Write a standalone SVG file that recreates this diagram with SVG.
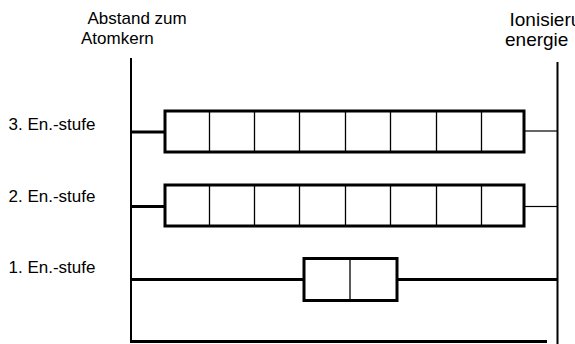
<svg xmlns="http://www.w3.org/2000/svg" width="575" height="344" viewBox="0 0 575 344">
<style>
text{font-family:"Liberation Sans",Arial,sans-serif;font-size:17px;fill:#000}
.big{font-size:19px}
.axis{stroke:#000;stroke-width:2;fill:none}
.thick{stroke:#000;stroke-width:3;fill:none}
.thin{stroke:#000;stroke-width:1.2;fill:none}
.box{fill:#fff;stroke:#000;stroke-width:3}
.div{stroke:#000;stroke-width:1.3}
</style>
<g id="labels">
<text x="87.5" y="24">Abstand zum</text>
<text x="81" y="44">Atomkern</text>
<text class="big" x="509.5" y="25.5">Ionisierungs-</text>
<text class="big" x="505" y="45.5">energie</text>
<text x="8.5" y="130">3. En.-stufe</text>
<text x="8.5" y="201.5">2. En.-stufe</text>
<text x="8.5" y="272.5">1. En.-stufe</text>
</g>
<g id="connectors">
<line class="axis" x1="131" y1="58" x2="131" y2="342"/>
<line class="axis" x1="557.5" y1="62" x2="557.5" y2="344"/>
<line class="thick" x1="130" y1="341.5" x2="547" y2="341.5"/>
<line class="thick" x1="131" y1="132" x2="164" y2="132"/>
<line class="thin" x1="525" y1="131" x2="557" y2="131"/>
<line class="thick" x1="131" y1="206.5" x2="164" y2="206.5"/>
<line class="thin" x1="525" y1="206.5" x2="557" y2="206.5"/>
<line class="thick" x1="131" y1="279.5" x2="557" y2="279.5"/>
</g>
<g id="level3">
<rect class="box" x="165" y="111" width="359" height="41"/>
<path class="div" d="M209.5 111V152M254.5 111V152M299.5 111V152M345.5 111V152M390.5 111V152M436.5 111V152M481.5 111V152"/>
</g>
<g id="level2">
<rect class="box" x="165" y="185" width="359" height="41"/>
<path class="div" d="M209.5 185V226M254.5 185V226M299.5 185V226M345.5 185V226M390.5 185V226M436.5 185V226M481.5 185V226"/>
</g>
<g id="level1">
<rect class="box" x="304" y="258.5" width="93" height="42"/>
<path class="div" d="M350 258.5V300.5"/>
</g>
</svg>
